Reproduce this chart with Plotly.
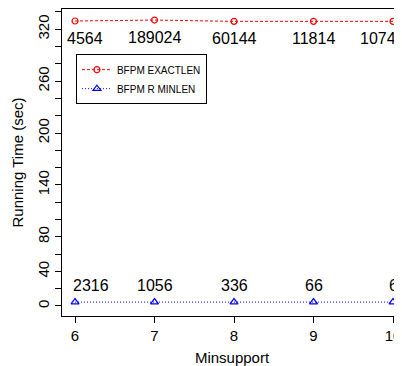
import plotly.graph_objects as go

minsupport = [6, 7, 8, 9, 10]
exactlen_time = [329.5, 330.6, 329.1, 329.1, 329.1]
minlen_time = [4.5, 4.5, 4.5, 4.5, 4.5]
exactlen_labels = ["4564", "189024", "60144", "11814", "1074"]
minlen_labels = ["2316", "1056", "336", "66", "6"]
y_label_vals = [0, 40, 80, 140, 200, 260, 320]

# pixel nudges of the value labels (style only)
exactlen_label_dx = [10, 0, 0, 0, -15]
minlen_label_dx = [16, 0, 0, 0, 0]

FONT = "Liberation Sans, Arial, Helvetica, sans-serif"

fig = go.Figure()
fig.add_trace(go.Scatter(
    x=minsupport, y=exactlen_time, mode="lines+markers", name="BFPM EXACTLEN",
    line=dict(color="red", width=1, dash="3px,2px"),
    marker=dict(symbol="circle-open", size=6, color="red", line=dict(width=1.2)),
))
fig.add_trace(go.Scatter(
    x=minsupport, y=minlen_time, mode="lines+markers", name="BFPM R MINLEN",
    line=dict(color="blue", width=1, dash="1px,2px"),
    marker=dict(symbol="triangle-up-open", size=7, color="blue", line=dict(width=1.2)),
))

annotations = []
for x, y, t, dx in zip(minsupport, exactlen_time, exactlen_labels, exactlen_label_dx):
    annotations.append(dict(x=x, y=y, text=t, showarrow=False, yshift=-17, xshift=dx,
                            font=dict(size=16, color="black", family=FONT)))
for x, y, t, dx in zip(minsupport, minlen_time, minlen_labels, minlen_label_dx):
    annotations.append(dict(x=x, y=y, text=t, showarrow=False, yshift=17, xshift=dx,
                            font=dict(size=16, color="black", family=FONT)))

fig.update_layout(
    width=394, height=358,
    margin=dict(l=54, r=0, t=1, b=50, autoexpand=False),
    paper_bgcolor="white", plot_bgcolor="white",
    font=dict(family=FONT, size=15, color="black"),
    annotations=annotations,
    showlegend=True,
    legend=dict(x=0.041, y=0.853, xanchor="left", yanchor="top",
                bordercolor="black", borderwidth=1, bgcolor="white",
                font=dict(size=10, family=FONT), itemwidth=30,
                tracegroupgap=0),
    xaxis=dict(
        range=[5.836, 10.113], tickvals=minsupport, ticktext=[str(v) for v in minsupport],
        automargin=False,
        showgrid=False, zeroline=False, showline=True, linecolor="black", linewidth=1,
        mirror=True, ticks="outside", ticklen=6, tickcolor="black",
        tickfont=dict(size=15),
        title=dict(text="Minsupport", font=dict(size=15), standoff=10),
    ),
    yaxis=dict(
        range=[-11.6, 343.4], tickvals=y_label_vals, ticktext=[str(v) for v in y_label_vals],
        tickangle=-90, automargin=False,
        showgrid=False, zeroline=False, showline=True, linecolor="black", linewidth=1,
        ticks="outside", ticklen=6, tickcolor="black",
        minor=dict(dtick=20, tick0=0, ticks="outside", ticklen=6, tickcolor="black", showgrid=False),
        tickfont=dict(size=15),
        title=dict(text="Running Time (sec)", font=dict(size=15), standoff=7),
    ),
)

fig.write_html("out.html")
